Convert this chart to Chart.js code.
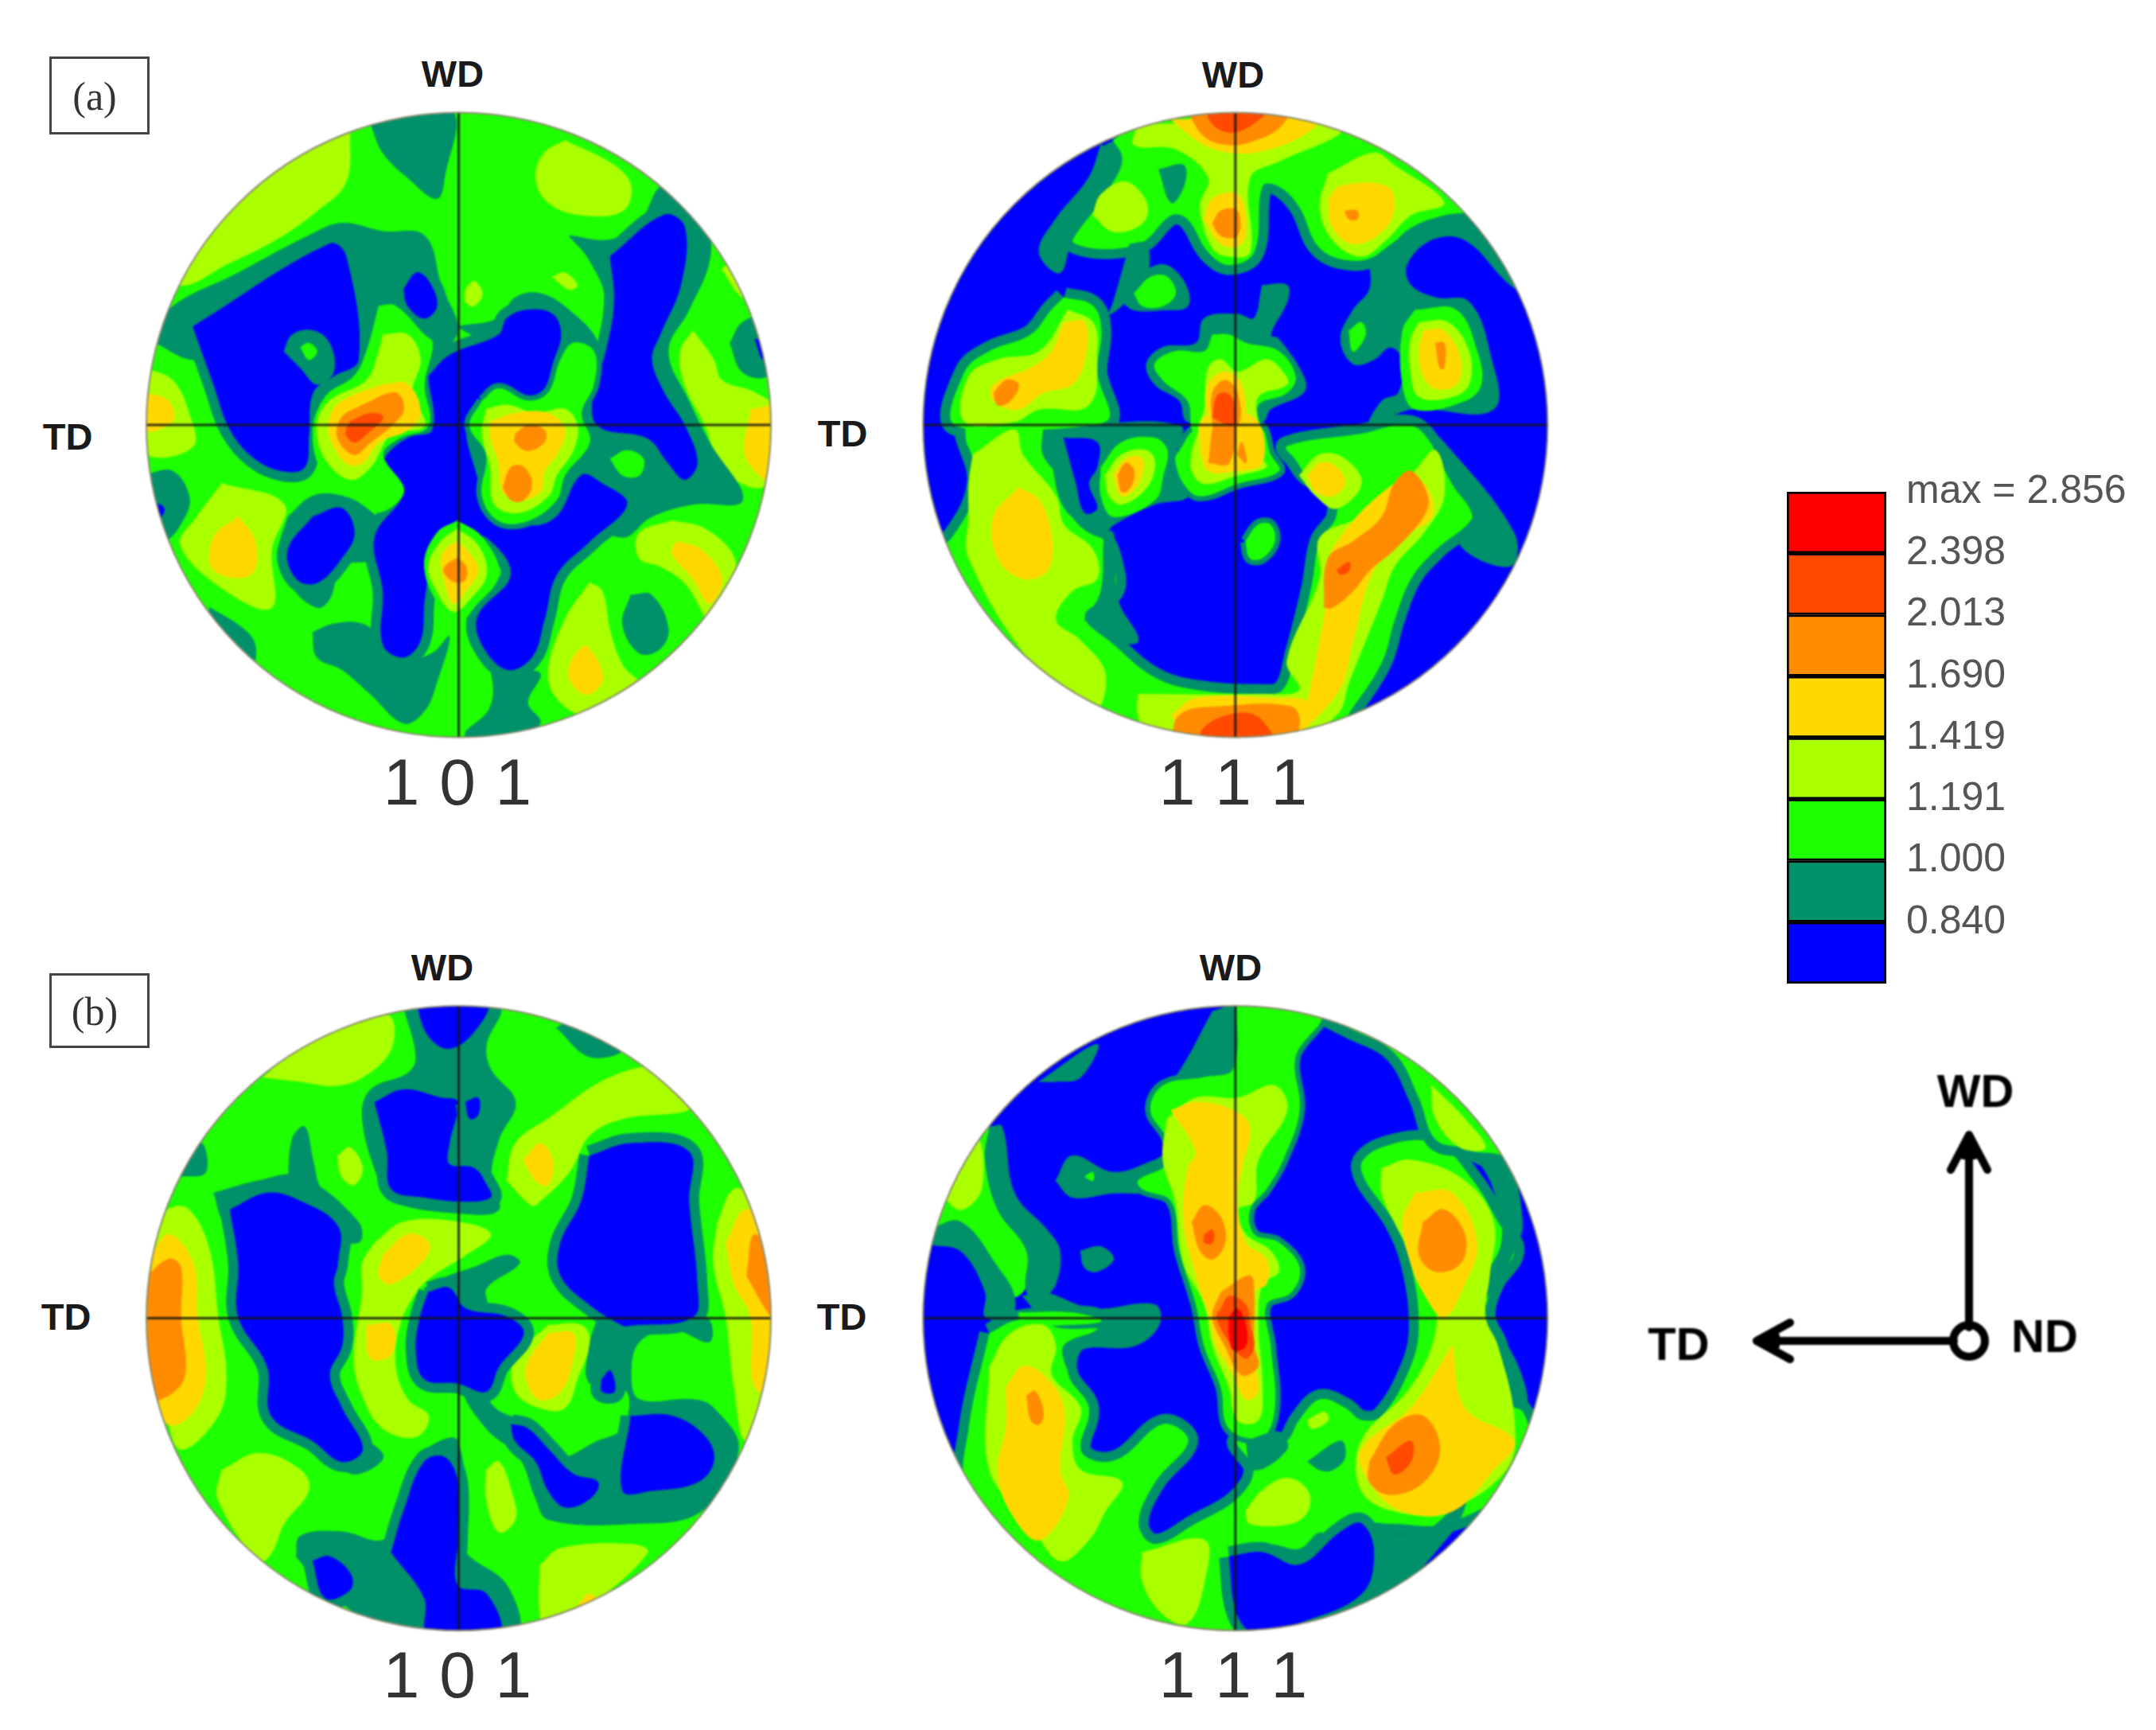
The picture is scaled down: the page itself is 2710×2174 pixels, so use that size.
<!DOCTYPE html>
<html>
<head>
<meta charset="utf-8">
<script src="https://cdn.jsdelivr.net/npm/chart.js@4"></script>
<style>
  html, body { margin: 0; background: #fff; }
  body { position: relative; width: 2710px; height: 2174px; overflow: hidden; font-family: "Liberation Sans", Arial, sans-serif; }
  canvas { position: absolute; filter: blur(0.9px); }
  .t { position: absolute; transform: translate(-50%, -50%); white-space: pre; color: #222; }
  .dir { font-weight: bold; font-size: 47px; color: #1a1a1a; }
  .hkl { font-size: 82px; word-spacing: 2px; color: #333; }
  .panel { position: absolute; left: 62px; width: 120px; border: 3px solid #444; text-align: center; font-family: "Liberation Serif", serif; font-size: 50px; color: #333; filter: blur(0.5px); }
  .panel span { position: relative; left: -6px; }
  svg { position: absolute; left: 0; top: 0; filter: blur(0.8px); }
</style>
</head>
<body>
<div class="panel" style="top:71px;height:92px;line-height:94px"><span>(a)</span></div>
<div class="panel" style="top:1223px;height:88px;line-height:90px"><span>(b)</span></div>

<canvas id="a101" width="810" height="810" style="left:170px;top:130px"></canvas>
<canvas id="a111" width="810" height="810" style="left:1140px;top:130px"></canvas>
<canvas id="b101" width="810" height="810" style="left:170px;top:1250px"></canvas>
<canvas id="b111" width="810" height="810" style="left:1140px;top:1250px"></canvas>
<canvas id="scale" width="464" height="712" style="left:2246px;top:571px;filter:blur(0.7px)"></canvas>

<div class="t dir" style="left:569px;top:92px">WD</div>
<div class="t dir" style="left:1550px;top:93px">WD</div>
<div class="t dir" style="left:556px;top:1215px">WD</div>
<div class="t dir" style="left:1547px;top:1215px">WD</div>
<div class="t dir" style="left:85px;top:548px">TD</div>
<div class="t dir" style="left:1059px;top:544px">TD</div>
<div class="t dir" style="left:83px;top:1654px">TD</div>
<div class="t dir" style="left:1058px;top:1654px">TD</div>
<div class="t hkl" style="left:575px;top:983px">1 0 1</div>
<div class="t hkl" style="left:1550px;top:983px">1 1 1</div>
<div class="t hkl" style="left:575px;top:2105px">1 0 1</div>
<div class="t hkl" style="left:1550px;top:2105px">1 1 1</div>

<svg width="2710" height="2174" fill="none" stroke="#000" stroke-width="10" stroke-linecap="round" stroke-linejoin="round">
  <path d="M2475 1668V1432M2452 1470L2475 1426L2498 1470"/>
  <path d="M2456 1685H2212M2250 1662L2208 1685L2250 1708"/>
  <path d="M2475 1432L2468 1452H2482Z M2212 1685L2232 1679V1691Z" fill="#000"/>
  <circle cx="2475" cy="1685" r="20"/>
  <g fill="#000" stroke="none" font-family="Liberation Sans" font-weight="bold" font-size="58" text-anchor="middle">
    <text x="2483" y="1391">WD</text>
    <text x="2110" y="1709">TD</text>
    <text x="2570" y="1699">ND</text>
  </g>
</svg>

<script>
// contour levels, lowest to highest
const levelColors = ["#0000ff", "#00906a", "#1eff00", "#aaff00", "#ffd800", "#ff8c00", "#ff4a00", "#ff0000"];
const levelTicks = ["0.840", "1.000", "1.191", "1.419", "1.690", "2.013", "2.398", "max = 2.856"];
const levelClasses = ["<0.840", "0.840", "1.000", "1.191", "1.419", "1.690", "2.013", "2.398"];

const BLUE = 0, TEAL = 1, GREEN = 2, LIME = 3, YELLOW = 4, ORANGE = 5, HOT = 6, RED = 7;

// contours, x/y on a 156 unit sheet, painted in this order
// [level, [x, y, x, y ...], ring]  ring = teal edge towards blue (1 wide, 2 thin)
const a101Regions = [
  [LIME, [52,6, 51,19, 44,26, 34,33, 22,39, 11,44, 5,38, 18,15, 38,3]],
  [LIME, [104,9, 116,15, 120,20, 118,26, 108,27, 100,24, 97,18, 99,12]],
  [LIME, [2,64, 9,67, 13,75, 14,83, 3,85, 1,75]],
  [YELLOW, [2,70, 8,72, 9,77, 2,79]],
  [LIME, [21,92, 36,97, 33,108, 33,122, 22,118, 11,107, 15,100]],
  [YELLOW, [25,100, 29,106, 28,114, 19,113, 19,105]],
  [LIME, [130,101, 138,103, 145,110, 144,118, 140,126, 133,116, 127,112, 122,110, 122,104]],
  [YELLOW, [131,106, 137,108, 142,115, 139,121, 135,115, 130,109]],
  [LIME, [110,116, 113,118, 115,128, 118,136, 123,142, 110,148, 103,145, 100,138, 104,125]],
  [YELLOW, [109,131, 112,135, 113,140, 109,143, 105,139, 106,134]],
  [LIME, [135,55, 140,62, 142,67, 150,70, 156,75, 155,90, 150,93, 142,88, 138,78, 133,68, 132,60]],
  [YELLOW, [149,74, 156,74, 156,92, 148,86]],
  [LIME, [142,40, 146,38, 150,46, 147,47]],
  [LIME, [80,45, 82,43, 84,46, 82,49, 80,48]],
  [LIME, [101,42, 104,41, 107,44, 105,45]],
  [TEAL, [57,5, 60,12, 66,18, 73,23, 75,17, 77,2, 65,1]],
  [TEAL, [5,58, 8,50, 25,41, 42,32, 50,29, 60,31, 70,32, 74,44, 78,55, 73,62, 70,72, 58,72, 44,72, 30,60, 14,62]],
  [TEAL, [105,32, 115,33, 122,29, 128,20, 138,30, 139,38, 134,50, 129,60, 134,72, 139,82, 147,96, 135,97, 125,100, 118,105, 110,100, 108,85, 112,78, 112,62, 114,48, 110,38]],
  [TEAL, [78,54, 88,52, 92,47, 98,46, 105,50, 112,58, 113,70, 108,80, 104,72, 100,70, 88,60]],
  [TEAL, [2,90, 9,89, 13,95, 12,100, 7,106, 2,104]],
  [TEAL, [37,100, 43,95, 50,95, 56,98, 60,103, 58,110, 50,112, 47,120, 44,122, 38,117, 35,108]],
  [TEAL, [43,128, 48,126, 55,126, 60,130, 64,135, 72,133, 76,129, 73,140, 70,147, 65,150, 57,143, 50,137, 44,134]],
  [TEAL, [18,122, 26,127, 29,131, 28,136, 18,128]],
  [TEAL, [80,152, 86,146, 86,137, 82,130, 84,129, 92,137, 98,138, 95,145, 98,150, 90,156, 80,156]],
  [TEAL, [144,58, 147,53, 152,52, 155,60, 153,66, 147,65]],
  [TEAL, [120,119, 125,119, 129,127, 127,132, 122,133, 118,126]],
  [BLUE, [14,54, 47,34, 51,37, 54,62, 48,66, 43,70, 42,80, 41,88, 36,89, 29,86, 23,79, 19,68]],
  [BLUE, [115,37, 128,27, 133,30, 132,44, 127,56, 125,62, 128,70, 133,78, 136,87, 133,91, 129,87, 124,81, 112,78, 111,70, 114,60, 116,48]],
  [BLUE, [71,66, 76,61, 88,56, 90,52, 95,50, 101,51, 103,56, 101,63, 100,68, 95,71, 88,69, 83,72, 80,78, 82,88, 85,95, 95,102, 102,100, 108,90, 113,92, 119,97, 110,106, 102,114, 99,125, 96,134, 90,137, 84,131, 83,124, 91,114, 85,105, 80,105, 76,103, 72,110, 70,120, 69,130, 65,134, 60,131, 60,118, 58,105, 65,94, 60,88, 61,85, 66,81, 72,79]],
  [BLUE, [43,100, 50,98, 53,104, 50,110, 44,116, 39,115, 37,108]],
  [BLUE, [65,45, 68,41, 71,43, 73,49, 70,52, 66,49]],
  [BLUE, [150,57, 153,58, 152,62]],
  [BLUE, [3,96, 7,98, 5,101, 2,100]],
  [TEAL, [36,60, 38,56, 43,55, 47,58, 48,65, 44,68, 40,64]],
  [GREEN, [40,59, 42,58, 44,60, 42,62]],
  [GREEN, [115,86, 119,84, 123,86, 122,90, 118,90]],
  [GREEN, [59,49, 63,49, 70,56, 72,58, 70,68, 71,78, 64,81, 60,85, 65,94, 58,99, 53,92, 46,90, 43,80, 46,71, 53,66, 56,60]],
  [LIME, [60,56, 66,56, 69,62, 67,70, 70,78, 62,80, 57,88, 52,91, 46,86, 44,78, 47,72, 56,67, 59,60]],
  [YELLOW, [60,68, 66,68, 69,75, 66,79, 59,82, 55,87, 51,87, 47,80, 48,74, 52,71]],
  [ORANGE, [55,73, 63,70, 65,74, 62,78, 57,82, 53,85, 49,81, 50,76]],
  [HOT, [52,77, 57,75, 60,76, 56,80, 53,82, 51,80]],
  [GREEN, [84,72, 88,69, 95,72, 100,70, 103,62, 106,58, 111,60, 111,68, 108,75, 110,82, 104,90, 102,96, 95,101, 88,101, 84,95, 85,85, 81,78], 2],
  [LIME, [85,74, 90,73, 97,75, 104,74, 107,78, 106,84, 102,90, 100,95, 93,99, 87,97, 86,88, 84,80]],
  [YELLOW, [86,77, 92,75, 100,75, 104,79, 102,85, 99,89, 98,94, 93,96, 89,94, 88,87, 86,81]],
  [ORANGE, [92,80, 95,78, 99,79, 99,82, 95,84, 92,82]],
  [ORANGE, [89,93, 91,88, 94,88, 96,92, 94,96, 91,96]],
  [GREEN, [78,101, 84,105, 88,114, 82,122, 79,125, 74,122, 70,112, 73,104]],
  [LIME, [78,103, 83,107, 85,114, 81,120, 77,123, 73,118, 71,112, 74,106]],
  [YELLOW, [78,106, 81,109, 83,113, 80,118, 77,121, 75,116, 74,111, 75,108]],
  [ORANGE, [78,110, 80,112, 80,115, 78,116, 75,114, 75,112]],
];

const a111Regions = [
  [GREEN, [50,9, 60,2, 100,2, 118,8, 140,25, 130,27, 122,30, 115,36, 108,38, 100,35, 95,25, 90,20, 86,20, 84,36, 78,39, 73,36, 68,28, 64,27, 56,34, 41,34, 40,28, 48,18, 52,13], 1],
  [GREEN, [14,80, 25,78, 33,82, 38,98, 47,105, 50,112, 50,118, 43,124, 50,131, 60,139, 70,142, 85,143, 91,142, 94,133, 98,117, 100,106, 104,100, 103,93, 97,90, 94,86, 92,83, 110,80, 122,78, 128,84, 135,95, 137,100, 128,108, 122,115, 118,125, 115,135, 108,146, 100,156, 40,150, 10,130, 3,112, 11,105, 17,92], 1],
  [GREEN, [38,47, 45,49, 47,55, 46,65, 48,77, 12,78, 14,65, 20,60, 30,56, 35,50], 1],
  [GREEN, [14,74, 32,74, 34,82, 16,84]],
  [TEAL, [47,10, 52,13, 48,22, 40,33, 37,41, 32,36, 36,28, 44,18]],
  [TEAL, [54,34, 58,34, 58,42, 53,48, 49,51, 50,48]],
  [TEAL, [52,48, 56,42, 62,39, 67,43, 68,49, 62,50, 55,50]],
  [TEAL, [112,38, 122,31, 130,28, 138,30, 148,45, 145,43, 135,33, 127,33, 121,39, 122,44, 128,47, 136,48, 141,60, 142,74, 122,74, 112,78, 115,72, 119,70, 120,62, 117,59, 113,62, 108,63, 105,57, 108,50, 112,45]],
  [TEAL, [125,78, 130,82, 147,104, 146,112, 134,107, 137,100, 132,92]],
  [TEAL, [43,125, 47,118, 48,104, 50,104, 51,120, 56,130, 50,130]],
  [GREEN, [55,46, 59,42, 63,42, 65,46, 62,49, 57,49]],
  [GREEN, [107,55, 110,53, 111,56, 108,60]],
  [GREEN, [82,106, 85,102, 88,102, 89,106, 86,110, 83,110], 2],
  [LIME, [56,5, 100,5, 105,7, 90,14, 83,18, 83,36, 78,37, 74,35, 71,25, 73,18, 65,11, 55,10]],
  [TEAL, [61,16, 67,15, 67,20, 64,24]],
  [YELLOW, [64,4, 100,3, 97,7, 88,11, 80,12, 72,10]],
  [ORANGE, [68,2, 92,2, 90,6, 84,9, 78,10, 72,8]],
  [HOT, [72,0, 88,0, 85,4, 79,7, 74,5]],
  [YELLOW, [72,28, 74,23, 80,22, 82,28, 81,34, 76,34]],
  [ORANGE, [74,29, 76,26, 80,26, 80,32, 76,32]],
  [LIME, [45,27, 47,22, 53,19, 58,24, 57,29, 50,31]],
  [LIME, [102,17, 113,12, 118,15, 130,24, 122,27, 116,33, 110,37, 103,33, 100,25]],
  [YELLOW, [102,23, 105,20, 116,20, 118,25, 115,31, 108,34, 103,30]],
  [ORANGE, [106,26, 109,26, 109,28, 107,28]],
  [GREEN, [123,50, 133,50, 138,60, 139,68, 135,72, 123,74, 120,68, 120,55]],
  [LIME, [124,53, 131,53, 136,60, 136,68, 132,71, 124,71, 122,65, 122,57]],
  [YELLOW, [125,55, 130,55, 134,62, 133,68, 128,69, 125,66, 124,60]],
  [ORANGE, [128,58, 130,58, 130,64, 129,64]],
  [TEAL, [33,79, 66,78, 64,88, 68,95, 60,97, 50,102, 47,105, 40,100, 38,92, 33,85]],
  [BLUE, [38,81, 46,82, 46,88, 44,92, 46,98, 43,99, 41,92]],
  [GREEN, [66,84, 70,79, 85,78, 88,85, 90,89, 80,92, 71,95, 67,92, 65,86], 2],
  [TEAL, [86,44, 92,44, 92,48, 88,56, 90,57, 96,66, 96,70, 88,74, 86,77, 68,77, 66,72, 60,68, 58,63, 62,59, 70,58, 72,52, 80,51, 84,52]],
  [GREEN, [74,56, 78,56, 82,58, 90,60, 94,66, 92,70, 85,73, 85,80, 70,80, 68,72, 62,67, 60,63, 65,60, 72,60]],
  [LIME, [69,84, 72,78, 84,78, 86,86, 87,88, 80,90, 72,92, 69,89]],
  [LIME, [72,74, 73,64, 76,62, 80,65, 87,62, 91,65, 92,68, 85,71, 84,80, 71,80]],
  [YELLOW, [71,84, 72,76, 84,76, 86,87, 79,89, 73,89]],
  [YELLOW, [73,78, 73,68, 77,65, 81,68, 81,78]],
  [ORANGE, [73,87, 75,76, 79,76, 78,87]],
  [ORANGE, [74,78, 74,70, 77,67, 80,70, 80,78]],
  [ORANGE, [80,85, 81,82, 82,85, 82,87]],
  [HOT, [74,76, 75,71, 77,70, 79,72, 79,78]],
  [GREEN, [47,88, 52,82, 60,81, 63,84, 62,90, 60,96, 50,100, 47,95]],
  [LIME, [48,90, 52,85, 58,84, 60,87, 58,93, 52,97, 49,95]],
  [YELLOW, [50,90, 53,86, 57,86, 56,92, 52,95]],
  [ORANGE, [51,90, 53,87, 55,89, 54,93, 52,94]],
  [LIME, [39,50, 45,53, 46,60, 44,73, 32,74, 26,77, 14,77, 15,66, 22,62, 32,60]],
  [YELLOW, [38,53, 43,53, 43,62, 40,68, 33,70, 27,74, 21,72, 21,68, 30,64, 35,60]],
  [ORANGE, [21,70, 24,67, 27,68, 25,72, 22,73]],
  [LIME, [16,85, 26,79, 28,85, 36,95, 38,102, 45,108, 46,115, 40,118, 36,125, 42,130, 48,138, 45,147, 30,135, 15,110, 15,100, 15,92]],
  [YELLOW, [27,93, 32,96, 35,105, 34,113, 28,115, 22,110, 21,100]],
  [LIME, [56,143, 85,143, 95,142, 92,135, 100,115, 100,105, 110,100, 122,90, 128,84, 130,95, 125,104, 118,112, 115,120, 107,140, 104,148, 90,156, 60,156, 56,148]],
  [YELLOW, [97,145, 100,130, 102,118, 103,108, 118,92, 125,92, 127,100, 118,106, 112,115, 108,130, 104,143, 90,156]],
  [YELLOW, [64,148, 70,144, 90,144, 97,145, 95,152, 70,156]],
  [ORANGE, [64,156, 66,148, 76,146, 93,146, 95,150, 92,156]],
  [HOT, [70,156, 72,151, 78,148, 84,148, 88,152, 90,156]],
  [ORANGE, [101,122, 102,110, 108,106, 115,100, 118,92, 122,89, 126,95, 125,100, 118,108, 112,113, 108,118, 103,122]],
  [HOT, [104,113, 107,111, 107,113, 105,114]],
  [LIME, [95,90, 100,85, 106,86, 110,92, 104,98, 99,95]],
  [YELLOW, [97,90, 100,87, 104,88, 106,92, 103,95, 99,94]],
];

const b101Regions = [
  [LIME, [31,20, 42,11, 61,5, 62,13, 55,20, 48,22, 40,21]],
  [LIME, [90,45, 92,36, 100,30, 115,20, 128,18, 135,27, 118,30, 110,34, 105,43, 98,50, 96,51]],
  [YELLOW, [94,40, 98,36, 101,40, 100,46, 97,45]],
  [LIME, [49,39, 52,37, 55,42, 53,46, 50,44]],
  [LIME, [2,60, 8,52, 13,52, 18,62, 20,78, 22,92, 20,102, 11,110, 7,100, 2,90]],
  [YELLOW, [3,65, 8,58, 14,65, 15,78, 17,92, 14,101, 8,104, 3,95]],
  [ORANGE, [1,70, 8,64, 11,66, 11,78, 12,92, 8,97, 1,98]],
  [LIME, [141,55, 145,47, 150,50, 156,60, 156,95, 148,108, 145,95, 143,78, 140,65]],
  [YELLOW, [143,60, 148,52, 156,60, 156,95, 150,95, 149,78, 145,70]],
  [ORANGE, [148,68, 150,58, 156,68, 156,78, 154,78]],
  [LIME, [21,115, 30,111, 40,115, 42,120, 36,128, 33,135, 30,137, 20,122]],
  [LIME, [58,60, 65,55, 78,55, 86,58, 80,63, 72,68, 68,72, 64,80, 63,90, 66,98, 71,102, 68,107, 60,105, 55,97, 53,88, 55,72, 55,65]],
  [YELLOW, [60,63, 66,58, 71,60, 70,64, 62,70, 59,68]],
  [YELLOW, [56,80, 62,80, 62,87, 57,88]],
  [LIME, [100,80, 108,80, 110,84, 107,93, 104,100, 98,100, 92,96, 92,88]],
  [YELLOW, [100,82, 106,82, 106,88, 103,96, 98,98, 95,94, 95,89]],
  [LIME, [85,115, 88,113, 91,120, 92,127, 88,130, 85,122]],
  [LIME, [98,138, 103,134, 120,133, 124,135, 110,148, 100,155, 98,150]],
  [YELLOW, [107,148, 110,145, 112,148, 108,150]],
  [LIME, [56,150, 60,148, 66,153, 60,155]],
  [TEAL, [65,3, 88,3, 85,12, 86,18, 92,26, 88,35, 86,45, 88,52, 80,53, 62,50, 59,45, 55,30, 57,23, 66,19, 68,15]],
  [TEAL, [102,8, 108,5, 118,13, 110,15]],
  [TEAL, [11,44, 16,36, 17,43]],
  [TEAL, [37,48, 38,35, 41,32, 43,40, 45,47, 53,55, 45,55]],
  [TEAL, [19,48, 30,45, 40,44, 54,55, 54,60, 45,58, 30,52, 22,55]],
  [TEAL, [47,112, 55,108, 60,112, 53,116]],
  [TEAL, [70,71, 76,68, 82,66, 90,63, 93,65, 85,71, 85,76, 80,78, 72,78]],
  [TEAL, [112,78, 138,78, 139,84, 130,81, 122,84, 120,92, 122,98, 135,98, 140,100, 146,110, 137,125, 120,128, 100,127, 97,122, 93,112, 85,105, 79,95, 82,92, 87,100, 95,104, 102,112, 112,108, 118,105, 119,96, 110,94, 110,85]],
  [TEAL, [39,136, 40,131, 50,130, 60,132, 64,125, 66,115, 72,109, 78,108, 80,130, 80,135, 90,143, 92,155, 65,155, 47,145]],
  [BLUE, [68,2, 85,2, 82,9, 76,13, 71,10]],
  [BLUE, [58,26, 65,23, 74,25, 78,26, 76,36, 76,41, 82,42, 85,46, 86,49, 80,50, 70,49, 62,47, 61,38]],
  [BLUE, [80,26, 83,25, 83,29, 81,30]],
  [BLUE, [110,39, 120,36, 134,38, 134,50, 136,70, 135,78, 120,80, 118,80, 110,75, 103,68, 103,60, 108,50]],
  [BLUE, [23,52, 32,48, 40,50, 49,56, 49,65, 48,70, 50,78, 50,85, 47,92, 50,100, 55,110, 50,113, 43,108, 33,102, 32,90, 25,78, 25,65]],
  [BLUE, [71,72, 76,71, 80,76, 90,78, 94,82, 88,90, 85,96, 78,94, 70,93, 68,86, 69,78]],
  [BLUE, [120,102, 130,102, 138,107, 140,113, 136,118, 125,120, 118,120]],
  [BLUE, [91,104, 95,105, 100,110, 106,116, 112,118, 110,122, 104,124, 100,120, 97,113, 92,108]],
  [BLUE, [113,93, 115,91, 116,96, 113,96]],
  [BLUE, [62,135, 65,125, 70,113, 75,112, 78,118, 78,132, 78,143, 85,145, 88,155, 71,155, 70,146]],
  [BLUE, [43,137, 47,136, 52,140, 52,144, 46,146]],
];

const b111Regions = [
  [GREEN, [20,82, 26,79, 35,78, 45,78, 47,80, 40,85, 39,92, 44,100, 42,110, 46,113, 52,112, 62,104, 68,108, 60,118, 56,128, 60,133, 70,128, 80,122, 84,115, 80,108, 88,108, 92,108, 95,103, 100,98, 106,100, 110,103, 115,102, 122,90, 124,80, 122,65, 118,55, 110,42, 115,37, 128,36, 137,45, 143,55, 147,62, 142,70, 140,78, 143,85, 145,95, 150,103, 150,110, 145,120, 130,128, 118,128, 108,128, 103,132, 100,130, 95,134, 88,133, 80,135, 76,140, 80,156, 40,150, 15,120, 15,105], 1],
  [GREEN, [101,5, 107,8, 118,14, 124,25, 128,35, 135,37, 145,40, 140,20, 120,5], 1],
  [LIME, [127,22, 135,30, 140,37, 134,37, 128,30]],
  [GREEN, [5,55, 10,40, 20,32, 22,48, 28,57, 30,65, 28,72, 24,73, 20,65, 13,58]],
  [LIME, [8,48, 12,38, 17,34, 18,47, 13,52]],
  [TEAL, [20,32, 23,32, 26,48, 34,57, 37,62, 36,70, 33,73, 29,72, 29,62, 22,52, 19,40]],
  [TEAL, [5,57, 13,55, 22,66, 26,73, 25,78, 19,78, 19,72, 13,62, 5,60]],
  [TEAL, [42,62, 47,61, 50,64, 46,67, 43,66]],
  [TEAL, [32,21, 46,12, 42,20, 36,21]],
  [TEAL, [36,45, 40,39, 50,43, 60,40, 64,38, 62,47, 58,48, 50,48, 40,49]],
  [TEAL, [28,73, 33,72, 45,76, 60,75, 61,80, 55,85, 42,86, 40,92, 38,85, 47,81, 35,80]],
  [GREEN, [27,77, 40,77, 47,79, 36,80, 28,80]],
  [TEAL, [137,38, 145,40, 149,55, 147,62, 143,70, 140,75, 148,90, 150,100, 145,98, 140,80, 138,72, 144,60, 142,47]],
  [TEAL, [112,130, 125,130, 135,122, 132,130, 113,148]],
  [GREEN, [43,44, 45,43, 45,45]],
  [TEAL, [74,4, 80,3, 79,18, 70,22, 60,24, 65,20]],
  [GREEN, [80,2, 100,5, 94,15, 95,28, 91,40, 87,47, 83,52, 84,58, 90,60, 95,66, 93,72, 87,75, 88,85, 89,100, 86,107, 78,105, 76,95, 72,85, 70,75, 66,62, 64,50, 57,47, 56,45, 63,41, 63,35, 59,28, 62,22, 72,20, 79,18], 2],
  [LIME, [63,30, 70,25, 80,25, 89,22, 92,28, 85,40, 84,50, 80,52, 82,58, 88,62, 90,67, 86,70, 85,80, 86,95, 85,103, 80,103, 78,95, 74,85, 72,75, 67,65, 65,50, 62,40]],
  [YELLOW, [64,28, 70,26, 79,28, 83,32, 81,42, 80,50, 82,60, 87,64, 87,70, 84,72, 84,88, 85,96, 82,98, 79,92, 75,85, 73,77, 70,68, 67,55, 68,42, 70,38]],
  [ORANGE, [69,55, 72,51, 76,54, 77,60, 74,64, 71,62]],
  [HOT, [72,58, 74,57, 74,60, 72,60]],
  [ORANGE, [76,72, 83,68, 84,72, 84,85, 85,90, 81,92, 77,85, 74,78]],
  [HOT, [76,76, 78,73, 82,75, 83,80, 84,85, 82,88, 78,84, 75,78]],
  [RED, [78,78, 80,76, 82,80, 82,85, 79,86, 78,82]],
  [LIME, [115,42, 122,40, 135,45, 142,55, 141,68, 140,78, 143,85, 147,103, 145,115, 130,125, 118,125, 110,120, 110,108, 122,95, 128,82, 127,72, 118,55, 115,48]],
  [YELLOW, [123,48, 132,48, 138,60, 135,70, 130,78, 125,72, 122,65, 120,55]],
  [YELLOW, [132,85, 135,100, 147,108, 142,115, 132,125, 120,125, 112,118, 110,110, 122,100]],
  [ORANGE, [125,55, 130,52, 135,58, 134,65, 128,67, 124,63]],
  [ORANGE, [112,113, 118,104, 125,102, 129,110, 125,118, 117,121, 112,118]],
  [HOT, [116,112, 122,108, 122,113, 118,116]],
  [LIME, [97,103, 101,101, 102,103, 98,105]],
  [TEAL, [82,108, 90,106, 92,110, 84,115]],
  [TEAL, [97,113, 105,108, 106,112, 103,115, 100,115]],
  [LIME, [82,125, 86,120, 92,117, 97,120, 97,125, 93,128, 83,128]],
  [LIME, [20,90, 25,82, 33,80, 36,85, 35,92, 42,100, 40,108, 42,115, 52,118, 48,125, 44,132, 37,137, 30,128, 20,115]],
  [YELLOW, [24,95, 28,90, 33,92, 38,100, 37,115, 39,122, 32,132, 25,125, 22,115, 24,105]],
  [ORANGE, [29,97, 31,96, 33,101, 32,104, 30,103]],
  [LIME, [57,135, 72,132, 72,142, 68,152, 62,150, 57,142]],
  [BLUE, [78,136, 86,135, 95,138, 105,130, 110,128, 113,135, 110,145, 95,152, 85,155, 80,150]],
];

const SHEET = 156, RADIUS = 75.6;
const RING_WIDTHS = [0, 26, 14];

// clip to the unit circle, paint the background level, then axes and rim on top
const poleFigure = {
  id: "poleFigure",
  beforeDatasetsDraw(chart, args, opts) {
    const { ctx, scales: { x, y } } = chart;
    const cx = x.getPixelForValue(opts.cx), cy = y.getPixelForValue(opts.cy);
    const r = x.getPixelForValue(opts.cx + RADIUS) - cx;
    ctx.save();
    ctx.beginPath();
    ctx.arc(cx, cy, r, 0, Math.PI * 2);
    ctx.fillStyle = levelColors[opts.base];
    ctx.fill();
    ctx.clip();
  },
  afterDatasetsDraw(chart, args, opts) {
    const { ctx, scales: { x, y } } = chart;
    const cx = x.getPixelForValue(opts.cx), cy = y.getPixelForValue(opts.cy);
    const r = x.getPixelForValue(opts.cx + RADIUS) - cx;
    ctx.restore();
    ctx.strokeStyle = "rgba(20,20,20,0.85)";
    ctx.lineWidth = 3;
    ctx.beginPath();
    ctx.moveTo(cx - r, cy); ctx.lineTo(cx + r, cy);
    ctx.moveTo(cx, cy - r); ctx.lineTo(cx, cy + r);
    ctx.stroke();
    ctx.strokeStyle = "#8a8a70";
    ctx.lineWidth = 2;
    ctx.beginPath();
    ctx.arc(cx, cy, r, 0, Math.PI * 2);
    ctx.stroke();
  },
};

const toPoints = (flat) => {
  const pts = [];
  for (let i = 0; i < flat.length; i += 2) pts.push({ x: flat[i], y: flat[i + 1] });
  pts.push(pts[0]);
  return pts;
};

const lineBase = { showLine: true, pointRadius: 0, pointHitRadius: 0, tension: 0.38 };

const drawFigure = (id, regions, base, cx, cy) => {
  const sets = [];
  regions.forEach(([level, flat, ring]) => {
    const data = toPoints(flat);
    if (level === BLUE || ring) {
      const borderWidth = RING_WIDTHS[level === BLUE ? 1 : ring];
      sets.push({ ...lineBase, data, fill: false, borderColor: levelColors[TEAL], borderWidth, borderJoinStyle: "round" });
    }
    sets.push({ ...lineBase, data, fill: "shape", backgroundColor: levelColors[level], borderColor: levelColors[level], borderWidth: 1 });
  });
  new Chart(document.getElementById(id), {
    type: "scatter",
    // first dataset is painted last
    data: { datasets: sets.reverse() },
    options: {
      responsive: false,
      animation: false,
      events: [],
      layout: { padding: 0 },
      plugins: { legend: { display: false }, tooltip: { enabled: false }, poleFigure: { base, cx, cy } },
      scales: {
        x: { type: "linear", min: 0, max: SHEET, display: false },
        y: { type: "linear", min: 0, max: SHEET, reverse: true, display: false },
      },
    },
    plugins: [poleFigure],
  });
};

drawFigure("a101", a101Regions, GREEN, 78.3, 77.8);
drawFigure("a111", a111Regions, BLUE, 79.5, 77.8);
drawFigure("b101", b101Regions, GREEN, 78.3, 78.3);
drawFigure("b111", b111Regions, BLUE, 79.5, 78.3);

// colour scale: one stacked bar, equal height classes
new Chart(document.getElementById("scale"), {
  type: "bar",
  data: {
    labels: [""],
    datasets: levelClasses.map((name, i) => ({
      label: name,
      data: [1],
      backgroundColor: levelColors[i],
      borderColor: "#000",
      borderWidth: 3,
      borderSkipped: false,
      barPercentage: 1,
      categoryPercentage: 1,
    })),
  },
  options: {
    responsive: false,
    animation: false,
    events: [],
    layout: { padding: { top: 40, bottom: 20 } },
    plugins: { legend: { display: false }, tooltip: { enabled: false } },
    scales: {
      x: { stacked: true, display: false },
      y: {
        stacked: true,
        position: "right",
        min: 0,
        max: 8,
        afterFit: (s) => { s.width = 339; },
        border: { display: false },
        grid: { display: false },
        ticks: {
          stepSize: 1,
          padding: 17,
          color: "#555",
          font: { family: "Liberation Sans", size: 50 },
          callback: (v) => (v >= 1 ? levelTicks[v - 1] : ""),
        },
      },
    },
  },
});
</script>
</body>
</html>
